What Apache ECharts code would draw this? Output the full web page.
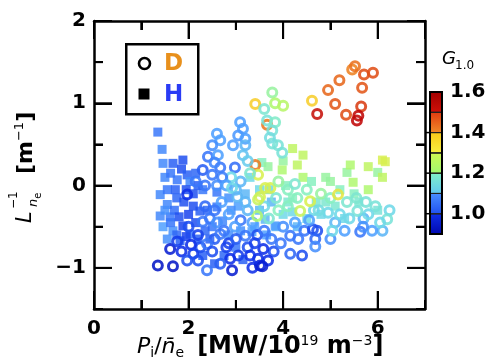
<!DOCTYPE html>
<html><head><meta charset="utf-8">
<script src="https://cdn.jsdelivr.net/npm/echarts@6/dist/echarts.min.js"></script>
<style>html,body{margin:0;padding:0;background:#fff}#c{width:491px;height:363px;background:#fff}</style>
</head><body><div id="c"></div>
<script>
// ---- D (circles) ----
const dX=[4.61,4.72,4.95,5.19,5.46,5.52,5.71,5.90,5.67,5.10,5.33,5.65,5.59,5.56,
3.66,3.41,3.41,3.47,
3.77,3.83,4.00,3.60,3.66,3.83,3.77,3.77,3.89,3.98,3.72,
3.09,3.15,3.05,3.20,2.94,3.20,3.15,2.98,3.25,3.30,3.10,2.90,
2.60,2.67,2.50,2.41,2.62,2.67,2.30,2.50,2.71,2.55,
1.97,
2.35,2.45,2.60,2.75,2.85,2.70,2.25,2.55,2.85,3.05,3.25,3.35,3.45,3.60,3.75,3.80,3.95,4.25,4.45,3.20,3.35,3.60,3.85,4.30,4.65,5.10,5.30,5.70,6.10,6.25,5.00,4.40,2.05,1.85,2.00,2.15,2.35,2.60,2.80,3.00,
3.62,3.73,3.51,3.47,2.92,3.03,3.90,4.10,4.25,4.50,4.57,4.36,4.80,5.00,5.16,5.35,5.55,5.75,5.95,6.20,6.05,5.57,5.80,5.40,5.20,4.95,4.75,4.10,3.90,3.70,3.45,3.25,
5.04,5.63,5.88,5.69,4.72,4.63,4.68,4.68,4.55,4.32,4.15,4.15,4.00,3.58,3.51,3.68,3.47,3.56,3.40,3.20,3.10,2.98,2.88,2.92,2.80,2.67,2.39,2.39,2.67,2.50,2.20,2.30,2.10,1.97,2.20,1.61,1.76,1.35,1.67,3.00,3.30,2.55];
const dY=[1.03,0.87,1.16,1.28,1.41,1.45,1.35,1.37,1.19,0.99,0.86,0.96,0.85,0.79,
0.74,0.99,0.25,0.13,
1.13,1.00,0.97,0.93,0.79,0.77,0.67,0.51,0.49,0.40,0.58,
0.77,0.69,0.61,0.57,0.49,0.49,0.37,0.22,0.30,0.15,0.05,0.10,
0.63,0.55,0.49,0.35,0.37,0.22,0.19,0.13,0.10,0.28,
-0.11,
-0.25,-0.40,-0.45,-0.55,-0.35,-0.20,-0.75,-0.65,-0.70,-0.85,-0.75,-1.00,-0.60,-0.55,-0.65,-0.80,-0.70,-0.45,-0.55,-0.20,-0.45,-0.25,-0.15,-0.15,-0.30,-0.45,-0.55,-0.40,-0.55,-0.30,-0.65,-0.85,-0.72,-0.80,-0.50,0.05,0.00,0.00,0.00,-0.05,
-0.03,-0.03,-0.14,-0.17,-0.03,-0.14,0.05,-0.05,0.02,-0.05,-0.19,-0.31,-0.10,-0.15,-0.11,-0.20,-0.15,-0.20,-0.25,-0.41,-0.45,-0.31,-0.35,-0.40,-0.35,-0.33,-0.30,-0.25,-0.30,-0.40,-0.37,-0.30,
-0.55,-0.56,-0.55,-0.50,-0.55,-0.53,-0.65,-0.74,-0.42,-0.65,-0.61,-0.83,-0.50,-0.77,-0.97,-0.91,-0.89,-0.98,-0.70,-0.61,-0.42,-0.50,-0.89,-1.03,-0.75,-0.59,-0.71,-1.03,-0.95,-0.80,-0.60,-0.44,-0.83,-0.91,-0.91,-0.77,-0.68,-0.97,-0.98,-0.65,-0.85,-0.30];
const dG=[1.36,1.58,1.47,1.47,1.44,1.46,1.50,1.50,1.49,1.49,1.50,1.52,1.60,1.60,
1.45,1.36,1.45,1.30,
1.22,1.25,1.26,1.18,1.17,1.19,1.17,1.17,1.17,1.17,1.16,
1.10,1.10,1.09,1.10,1.10,1.12,1.13,1.04,1.14,1.18,1.12,1.15,
1.10,1.10,1.08,1.05,1.10,1.05,1.02,1.05,1.06,1.07,
0.95,
1.03,1.05,1.08,1.05,1.10,1.10,1.00,1.02,0.98,0.97,1.00,0.95,1.00,1.05,1.05,1.00,1.05,1.10,1.05,1.12,1.10,1.15,1.18,1.20,1.15,1.12,1.10,1.12,1.12,1.15,1.08,1.00,0.95,0.95,1.00,1.05,1.05,1.08,1.10,1.12,
1.30,1.30,1.30,1.28,1.15,1.12,1.22,1.20,1.18,1.20,1.30,1.28,1.22,1.20,1.32,1.18,1.18,1.17,1.17,1.17,1.15,1.17,1.15,1.15,1.15,1.15,1.16,1.20,1.20,1.18,1.25,1.12,
1.15,1.05,1.10,1.08,1.00,1.00,1.03,1.08,1.10,1.05,1.05,1.03,1.08,0.95,0.93,0.95,0.95,0.93,0.98,1.05,1.05,1.10,0.95,0.93,0.98,1.05,1.05,1.05,1.02,1.00,0.98,1.05,0.97,1.00,1.00,0.93,0.97,0.92,0.92,1.02,0.96,1.05];
// ---- H (squares) ----
const hX=[1.35,1.44,1.46,1.67,1.88,1.85,1.97,1.76,2.03,2.15,1.40,1.55,1.55,1.40,1.61,1.46,1.67,1.88,2.03,1.82,1.75,1.90,2.10,2.24,2.30,2.40,2.15,2.00,1.70,2.50,2.60,2.60,2.72,2.85,3.00,2.45,2.75,3.15,3.40,3.65,3.85,4.00,3.75,3.50,3.30,3.05,3.20,2.85,3.83,3.34,3.62,4.19,
1.50,1.62,1.72,1.95,2.20,1.50,1.62,1.80,1.95,2.10,2.20,2.35,1.75,1.55,2.30,2.55,2.90,3.10,3.50,3.70,4.10,4.30,4.80,5.10,5.50,4.90,4.00,4.20,
3.55,3.68,3.98,4.30,4.42,4.42,4.60,5.00,5.20,4.90,5.30,4.50,4.20,5.35,5.42,5.48,5.80,5.80,6.00,6.10,6.16,6.10,4.70,4.05,5.60,6.00];
const hY=[0.65,0.44,0.27,0.27,0.31,0.20,0.13,0.07,0.05,0.15,-0.11,-0.05,-0.23,-0.37,-0.38,-0.50,-0.55,-0.49,-0.59,-0.67,-0.15,-0.20,-0.10,-0.31,-0.05,-0.30,-0.45,-0.35,-0.30,-0.50,-0.08,-0.26,-0.43,-0.60,-0.75,-0.65,-0.85,-0.90,-0.50,-0.60,-0.50,-0.35,-0.20,-0.05,0.10,-0.25,-0.10,-0.15,-0.49,-0.56,-0.41,-0.32,
0.10,0.15,-0.05,-0.05,0.00,-0.30,-0.45,-0.38,-0.62,-0.25,-0.65,-0.55,-0.60,-0.65,-0.85,-0.95,-0.30,-0.55,-0.30,-0.05,-0.20,-0.50,-0.35,-0.25,-0.10,0.10,0.30,0.45,
0.28,0.23,0.19,0.25,0.37,0.10,0.05,0.05,-0.05,-0.20,-0.40,-0.40,-0.15,0.16,0.25,0.04,0.23,-0.05,0.16,0.31,0.29,0.10,-0.20,0.00,-0.20,-0.30];
const hG=[1.05,1.07,1.07,1.02,1.00,1.00,1.02,1.05,1.07,1.03,1.07,1.05,1.07,1.07,1.05,1.10,1.08,0.98,1.05,1.02,1.03,1.00,1.00,1.02,1.05,1.03,1.00,0.98,1.04,1.05,1.05,1.05,1.07,1.08,1.05,1.02,1.03,1.02,1.10,1.10,1.12,1.15,1.12,1.15,1.15,1.10,1.12,1.08,1.10,1.10,1.12,1.15,
1.07,1.05,1.02,1.00,1.02,1.08,1.05,1.00,0.98,1.00,1.02,1.03,1.03,1.08,1.02,1.02,1.08,1.08,1.12,1.15,1.18,1.12,1.15,1.18,1.20,1.22,1.22,1.27,
1.20,1.22,1.25,1.27,1.27,1.25,1.20,1.22,1.20,1.18,1.15,1.15,1.20,1.22,1.25,1.25,1.27,1.25,1.22,1.30,1.30,1.27,1.18,1.20,1.18,1.17];
// ---- colour scale ----
const gStops=[0.90,0.95,1.00,1.05,1.10,1.15,1.20,1.25,1.30,1.35,1.40,1.45,1.50,1.55,1.60];
const gColors=['#0008b0','#1030e8','#2050f0','#3a78fa','#50a0ff','#70d8e8','#88f0c0','#b0f870','#d8f050','#f8d830','#f4a828','#ec7a22','#e05018','#d02010','#c00808'];
// ---- colourbar bands ----
const bandLo=[0.9,1.0,1.1,1.2,1.3,1.4,1.5];
const bandHi=[1.0,1.1,1.2,1.3,1.4,1.5,1.6];
const bandTop=['#1030e8','#4a90ff','#80f0c8','#d0f850','#f8c818','#e03a10','#a00000'];
const bandBot=['#0008b0','#2050f0','#60c8f0','#a0f870','#f8f040','#f08a28','#d01008'];
// ---- ticks ----
const xMajor=[0,2,4,6];
const xMinor=[1,3,5];
const yMajor=[-1,0,1,2];
const yMinor=[-0.5,0.5,1.5];
const cbTicks=[1.0,1.2,1.4];

function hex(c){return [parseInt(c.slice(1,3),16),parseInt(c.slice(3,5),16),parseInt(c.slice(5,7),16)];}
function jet(g){
  if(g<=gStops[0]) return gColors[0];
  for(let i=1;i<gStops.length;i++){
    if(g<=gStops[i]){
      const t=(g-gStops[i-1])/(gStops[i]-gStops[i-1]);
      const a=hex(gColors[i-1]),b=hex(gColors[i]);
      return 'rgb('+a.map((v,k)=>Math.round(v+(b[k]-v)*t)).join(',')+')';
    }
  }
  return gColors[gColors.length-1];
}
const FF='DejaVu Sans';
const dData=dX.map((x,i)=>({value:[x,dY[i],dG[i]],itemStyle:{color:'rgba(0,0,0,0)',borderColor:jet(dG[i]),borderWidth:3}}));
const hData=hX.map((x,i)=>({value:[x,hY[i],hG[i]],itemStyle:{color:jet(hG[i])}}));
const fmt=v=>(v<0?'\u2212':'')+Math.abs(v);
const isInt=v=>Math.abs(v-Math.round(v))<1e-6;
const blk={color:'#000',width:2.5};
const tk=(len)=>({show:true,inside:true,length:len,lineStyle:{color:'#000',width:2}});
const lab={fontFamily:FF,fontWeight:'bold',fontSize:20,color:'#000'};
const X0=0, X1=7, Y0=-1.5, Y1=2, H0=288;
const chart=echarts.init(document.getElementById('c'),null,{renderer:'canvas'});
chart.setOption({
  animation:false,
  grid:[{left:94,top:21,width:331,height:H0},
        {left:430,top:92,width:12,height:142},
        {left:94,top:21,width:331,height:H0*(2-(-1))/(Y1-Y0)}],
  xAxis:[
    {gridIndex:0,type:'value',min:X0,max:X1,interval:2,position:'bottom',
     axisLine:{onZero:false,lineStyle:blk},axisTick:tk(18),splitLine:{show:false},
     axisLabel:Object.assign({margin:10,showMaxLabel:false},lab)},
    {gridIndex:0,type:'value',min:X0,max:X1,interval:2,position:'top',
     axisLine:{onZero:false,lineStyle:blk},axisTick:tk(18),splitLine:{show:false},axisLabel:{show:false}},
    {gridIndex:0,type:'value',min:X0,max:X1,interval:1,position:'bottom',
     axisLine:{show:false,onZero:false},axisTick:tk(9),splitLine:{show:false},axisLabel:{show:false}},
    {gridIndex:0,type:'value',min:X0,max:X1,interval:1,position:'top',
     axisLine:{show:false,onZero:false},axisTick:tk(9),splitLine:{show:false},axisLabel:{show:false}},
    {gridIndex:1,type:'value',min:0,max:1,show:false},
    {gridIndex:2,type:'value',min:0,max:1,show:false}],
  yAxis:[
    {gridIndex:0,type:'value',min:Y0,max:Y1,interval:0.5,position:'left',
     axisLine:{onZero:false,lineStyle:blk},axisTick:tk(9),splitLine:{show:false},
     axisLabel:Object.assign({margin:8,formatter:v=>isInt(v)?fmt(Math.round(v)):''},lab)},
    {gridIndex:0,type:'value',min:Y0,max:Y1,interval:0.5,position:'right',
     axisLine:{onZero:false,lineStyle:blk},axisTick:tk(9),splitLine:{show:false},axisLabel:{show:false}},
    {gridIndex:1,type:'value',min:0.9,max:1.6,interval:0.1,position:'right',
     axisLine:{show:false,onZero:false},axisTick:{show:false},splitLine:{show:false},
     axisLabel:Object.assign({margin:8,formatter:v=>{const k=Math.round(v*10);return (k>=10&&k%2===0)?(k/10).toFixed(1):'';}},lab)},
    {gridIndex:2,type:'value',min:-1,max:2,interval:1,position:'left',
     axisLine:{show:false,onZero:false},axisTick:tk(18),splitLine:{show:false},axisLabel:{show:false}},
    {gridIndex:2,type:'value',min:-1,max:2,interval:1,position:'right',
     axisLine:{show:false,onZero:false},axisTick:tk(18),splitLine:{show:false},axisLabel:{show:false}}],
  series:[
    {type:'scatter',xAxisIndex:0,yAxisIndex:0,symbol:'rect',symbolSize:9,data:hData,itemStyle:{opacity:0.85},silent:true},
    {type:'scatter',xAxisIndex:0,yAxisIndex:0,symbol:'circle',symbolSize:9,data:dData,itemStyle:{opacity:0.88},silent:true},
    {type:'custom',xAxisIndex:4,yAxisIndex:2,silent:true,
     data:bandLo.map((lo,i)=>[lo,bandHi[i],i]),
     renderItem:function(params,api){
       const i=api.value(2);
       const p0=api.coord([0,api.value(1)]),p1=api.coord([1,api.value(0)]);
       return {type:'rect',shape:{x:p0[0],y:p0[1],width:p1[0]-p0[0],height:p1[1]-p0[1]},
         style:{fill:new echarts.graphic.LinearGradient(0,0,0,1,[{offset:0,color:bandTop[i]},{offset:1,color:bandBot[i]}]),stroke:'#222',lineWidth:1}};
     }},
    {type:'custom',xAxisIndex:4,yAxisIndex:2,silent:true,data:[[0.9,1.6]],z:5,
     renderItem:function(params,api){
       const p0=api.coord([0,api.value(1)]),p1=api.coord([1,api.value(0)]);
       return {type:'rect',shape:{x:p0[0],y:p0[1],width:p1[0]-p0[0],height:p1[1]-p0[1]},
         style:{fill:null,stroke:'#000',lineWidth:2}};
     }}
  ]
});
// extra tick marks placed through the chart's own axis scales
const toPx=(x,y)=>chart.convertToPixel({xAxisIndex:0,yAxisIndex:0},[x,y]);
const pBL=toPx(X0,Y0), pTR=toPx(X1,Y1);
const tickEls=[];
function xTick(v,L){
  const x=toPx(v,Y0)[0];
  tickEls.push({type:'rect',z:20,shape:{x:x-1,y:pBL[1]-L,width:2,height:L},style:{fill:'#000'}});
  tickEls.push({type:'rect',z:20,shape:{x:x-1,y:pTR[1],width:2,height:L},style:{fill:'#000'}});
}
function yTick(v,L){
  const y=toPx(X0,v)[1];
  tickEls.push({type:'rect',z:20,shape:{x:pBL[0],y:y-1,width:L,height:2},style:{fill:'#000'}});
  tickEls.push({type:'rect',z:20,shape:{x:pTR[0]-L,y:y-1,width:L,height:2},style:{fill:'#000'}});
}
if(pBL&&pTR&&isFinite(pBL[0])&&isFinite(pTR[1])){
  xMajor.forEach(v=>xTick(v,18)); xMinor.forEach(v=>xTick(v,9));
  yMajor.forEach(v=>yTick(v,18)); yMinor.forEach(v=>yTick(v,9));
}
cbTicks.forEach(v=>{
  const p=chart.convertToPixel({xAxisIndex:4,yAxisIndex:2},[0,v]);
  if(p&&isFinite(p[0])) tickEls.push({type:'rect',z:20,shape:{x:p[0]-4,y:p[1]-0.75,width:4,height:1.5},style:{fill:'#000'}});
});
chart.setOption({graphic:tickEls.concat([
    // legend
    {type:'rect',left:125,top:43,shape:{width:72,height:70},style:{fill:'#fff',stroke:'#000',lineWidth:2.5},z:10},
    {type:'circle',shape:{cx:144.5,cy:63.5,r:5.5},style:{fill:null,stroke:'#000',lineWidth:2.6},z:11},
    {type:'rect',shape:{x:138.5,y:88.5,width:11,height:11},style:{fill:'#000'},z:11},
    {type:'text',x:164,y:64,style:{text:'D',fill:'#e8901c',font:'bold 23px "DejaVu Sans"',verticalAlign:'middle'},z:11},
    {type:'text',x:164,y:95,style:{text:'H',fill:'#2a3cf5',font:'bold 23px "DejaVu Sans"',verticalAlign:'middle'},z:11},
    // colourbar title
    {type:'text',x:442,y:59,style:{text:'G',fill:'#000',font:'italic 18px "DejaVu Sans"',verticalAlign:'middle'}},
    {type:'text',x:455,y:66,style:{text:'1.0',fill:'#000',font:'12px "DejaVu Sans"',verticalAlign:'middle'}},
    // x title
    {type:'text',x:137,y:347,style:{
      text:'{it|P}{sub|i}{rg|/}{it|n\u0304}{sub|e}{sp| }{bd|[MW/10}{sup|19}{bd| m}{sup|\u22123}{bd|]}',
      verticalAlign:'middle',fill:'#000',
      rich:{
        it:{fontFamily:FF,fontStyle:'italic',fontSize:22,lineHeight:26,verticalAlign:'middle'},
        rg:{fontFamily:FF,fontSize:22,lineHeight:26,verticalAlign:'middle'},
        sp:{fontFamily:FF,fontSize:22,lineHeight:26,verticalAlign:'middle',width:13},
        bd:{fontFamily:FF,fontWeight:'bold',fontSize:24,lineHeight:26,verticalAlign:'middle'},
        sub:{fontFamily:FF,fontSize:14,lineHeight:14,verticalAlign:'bottom'},
        sup:{fontFamily:FF,fontSize:14,lineHeight:14,verticalAlign:'top'}
      }}},
    // y title (rotated)
    {type:'group',x:33,y:223,rotation:Math.PI/2,children:[
      {type:'text',x:0,y:-7,style:{text:'L',fill:'#000',font:'italic 21px "DejaVu Sans"',verticalAlign:'middle'}},
      {type:'text',x:14,y:-19,style:{text:'\u22121',fill:'#000',font:'12px "DejaVu Sans"',verticalAlign:'middle'}},
      {type:'text',x:16,y:2,style:{text:'{n|n}{e|e}',fill:'#000',verticalAlign:'middle',
        rich:{n:{fontFamily:FF,fontStyle:'italic',fontSize:13,lineHeight:16,verticalAlign:'top'},
              e:{fontFamily:FF,fontSize:10,lineHeight:10,verticalAlign:'bottom'}}}},
      {type:'text',x:49,y:-7,style:{text:'{bd|[m}{sup|\u22121}{bd|]}',fill:'#000',verticalAlign:'middle',
        rich:{bd:{fontFamily:FF,fontWeight:'bold',fontSize:22,lineHeight:26,verticalAlign:'middle'},
              sup:{fontFamily:FF,fontSize:13,lineHeight:13,verticalAlign:'top'}}}}
    ]}
])});
</script></body></html>
